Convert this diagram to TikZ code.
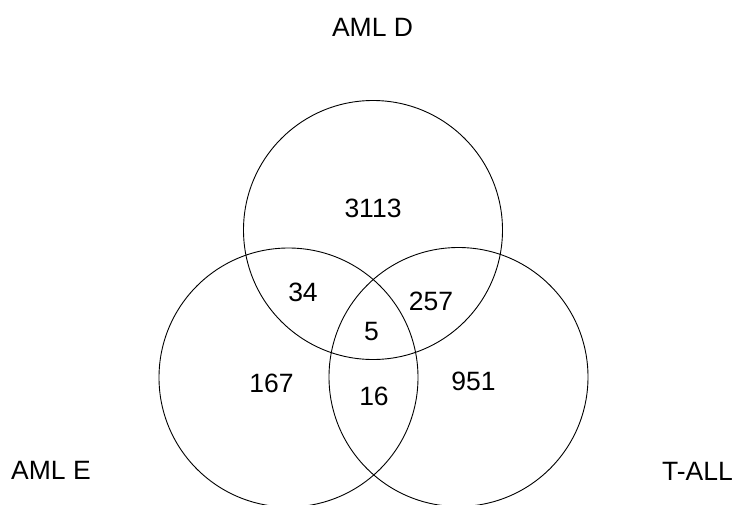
\documentclass[tikz,border=0pt]{standalone}
\usepackage{fontspec}
\setmainfont{Liberation Sans}
\begin{document}
\begin{tikzpicture}[x=1pt,y=-1pt,
  setcircle/.style={circle,draw=black,line width=0.9pt,minimum size=259pt,inner sep=0pt},
  lbl/.style={anchor=base,inner sep=0pt,font=\fontsize{26.5}{30}\selectfont},
  lblw/.style={anchor=base west,inner sep=0pt,font=\fontsize{26.5}{30}\selectfont},
  lble/.style={anchor=base east,inner sep=0pt,font=\fontsize{26.5}{30}\selectfont}]
\useasboundingbox (0,0) rectangle (734,504);
\node[setcircle] (D) at (373,230) {};
\node[setcircle] (E) at (288.5,377.5) {};
\node[setcircle] (T) at (458.5,377) {};
\node[lbl] (tD) at (372.5,36) {AML D};
\node[lblw] (tE) at (11,479) {AML E};
\node[lble] (tT) at (733,480) {T-ALL};
\node[lbl] (n3113) at (373,217) {3113};
\node[lbl] (n34) at (303,301.5) {34};
\node[lbl] (n5) at (371.5,340) {5};
\node[lbl] (n257) at (431,310) {257};
\node[lbl] (n167) at (271.5,392.5) {167};
\node[lbl] (n16) at (374,405.5) {16};
\node[lbl] (n951) at (473.5,390) {951};
\end{tikzpicture}
\end{document}
